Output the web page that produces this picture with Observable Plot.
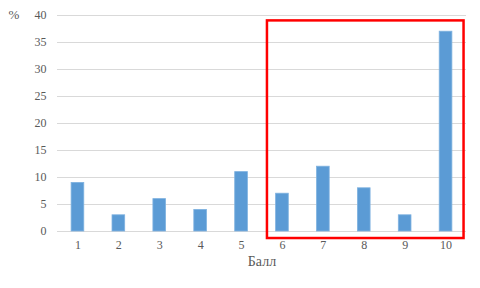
<!DOCTYPE html>
<html>
<head>
<meta charset="utf-8">
<script src="https://cdn.jsdelivr.net/npm/d3@7"></script>
<script src="https://cdn.jsdelivr.net/npm/@observablehq/plot@0.6"></script>
<style>
  html, body { margin: 0; padding: 0; background: #fff; }
  #chart { width: 480px; height: 288px; }
  #chart svg, #chart svg text { font-family: "Liberation Serif", "DejaVu Serif", serif !important; }
</style>
</head>
<body>
<div id="chart"></div>
<script>
const scores = ["1", "2", "3", "4", "5", "6", "7", "8", "9", "10"];
const percents = [9, 3, 6, 4, 11, 7, 12, 8, 3, 37];
const yTicks = [0, 5, 10, 15, 20, 25, 30, 35, 40];
const highlightFrom = "6";
const highlightTo = "10";
const highlightY = [-1.3, 39];

const data = scores.map((s, i) => ({score: s, value: percents[i]}));

function highlightBox(index, scales) {
  const {x, y} = scales;
  const bwRaw = x.bandwidth;
  const bw = typeof bwRaw === "function" ? bwRaw() : (bwRaw || 0);
  const left = x(highlightFrom) + bw / 2 - 15;
  const right = x(highlightTo) + bw / 2 + 18;
  const top = y(highlightY[1]);
  const bottom = y(highlightY[0]);
  return d3.create("svg:rect")
    .attr("x", left)
    .attr("y", top)
    .attr("width", right - left)
    .attr("height", bottom - top)
    .attr("fill", "none")
    .attr("stroke", "#ff0000")
    .attr("stroke-width", 2.5)
    .node();
}

const chart = Plot.plot({
  width: 480,
  height: 288,
  marginLeft: 57,
  marginRight: 14,
  marginTop: 15,
  marginBottom: 57,
  style: "font-family: 'Liberation Serif', serif; font-size: 12px; color: #595959; background: #fff;",
  x: {type: "band", domain: scores, paddingInner: 0.69, paddingOuter: 0.345, round: false, label: null},
  y: {domain: [0, 40], ticks: yTicks, label: null},
  marks: [
    Plot.gridY(yTicks, {stroke: "#d9d9d9", strokeOpacity: 1, strokeWidth: 1}),
    Plot.barY(data, {x: "score", y: "value", fill: "#5b9bd5", stroke: "#7fb2e0", strokeWidth: 0.8}),
    Plot.axisY(yTicks, {tickSize: 0, tickPadding: 11, fontSize: 12, fill: "#595959", label: null}),
    Plot.axisX({tickSize: 0, tickPadding: 9, fontSize: 12, fill: "#595959", label: null}),
    Plot.text(["Балл"], {frameAnchor: "bottom", dy: 34, fontSize: 14, fill: "#595959"}),
    Plot.text(["%"], {frameAnchor: "top-left", dx: -49, dy: -6, fontSize: 13, fill: "#595959"}),
    highlightBox
  ]
});
document.getElementById("chart").appendChild(chart);
</script>
</body>
</html>
